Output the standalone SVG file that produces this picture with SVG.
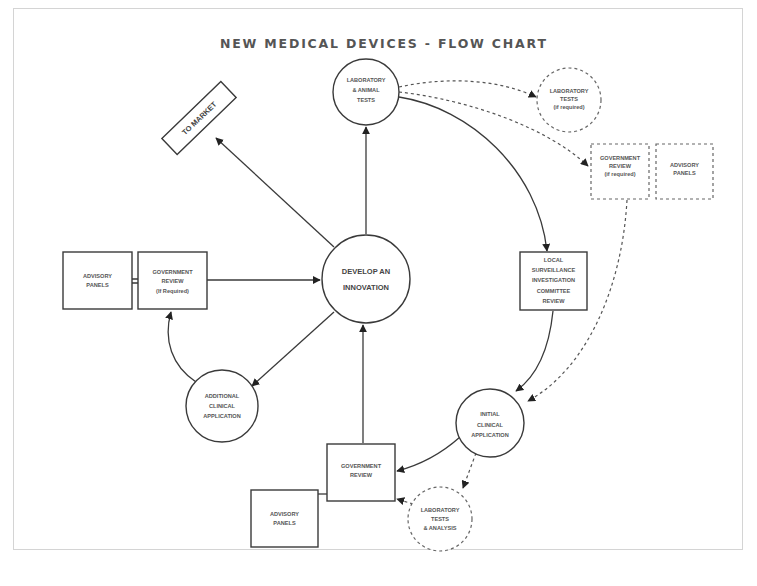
<svg xmlns="http://www.w3.org/2000/svg" width="757" height="586" viewBox="0 0 757 586">
<style>
.ln{fill:none;stroke:#3a3a3a;stroke-width:1.3}
.dl{fill:none;stroke:#555;stroke-width:1.2;stroke-dasharray:3 3}
.nd{fill:#fff;stroke:#3a3a3a;stroke-width:1.4}
.dn{fill:#fff;stroke:#666;stroke-width:1.2;stroke-dasharray:3 3}
.t{font-family:"Liberation Sans",Arial,sans-serif;font-size:5.6px;font-weight:bold;fill:#555;text-anchor:middle}
.tb{font-family:"Liberation Sans",Arial,sans-serif;font-size:7.5px;font-weight:bold;fill:#444;text-anchor:middle}
</style>
<defs>
<marker id="ah" viewBox="0 0 10 10" refX="9" refY="5" markerWidth="8" markerHeight="8" markerUnits="userSpaceOnUse" orient="auto">
<path d="M0,0 L10,5 L0,10 z" fill="#222"/>
</marker>
</defs>
<rect x="13.5" y="8.5" width="729" height="541" fill="#fff" stroke="#d4d4d4" stroke-width="1"/>
<text x="383" y="48" font-family="'DejaVu Sans',sans-serif" font-size="12.5" font-weight="bold" fill="#555" text-anchor="middle" textLength="326" lengthAdjust="spacing">NEW MEDICAL DEVICES - FLOW CHART</text>

<g id="connectors">
<path class="ln" d="M366,234 L366,127" marker-end="url(#ah)"/>
<path class="ln" d="M334,247 L216,138" marker-end="url(#ah)"/>
<path class="ln" d="M207,280 L320,280" marker-end="url(#ah)"/>
<path class="ln" d="M334,312 L252,386" marker-end="url(#ah)"/>
<path class="ln" d="M196,382 C172,366 163,340 171,312" marker-end="url(#ah)"/>
<path class="ln" d="M363,443 L363,325" marker-end="url(#ah)"/>
<path class="ln" d="M460,437 Q432,462 397,471" marker-end="url(#ah)"/>
<path class="dl" d="M413,504 L397,499" marker-end="url(#ah)"/>
<path class="dl" d="M476,453 L463,488" marker-end="url(#ah)"/>
<path class="ln" d="M399,97 C470,108 538,170 547,251" marker-end="url(#ah)"/>
<path class="ln" d="M553,311 C549,350 537,376 516,391" marker-end="url(#ah)"/>
<path class="dl" d="M399,87 C450,76 500,80 536,97" marker-end="url(#ah)"/>
<path class="dl" d="M399,92 C470,100 548,128 588,166" marker-end="url(#ah)"/>
<path class="dl" d="M627,200 C622,290 585,370 528,401" marker-end="url(#ah)"/>
<path class="ln" d="M132,279 L138,279 M132,283 L138,283"/>
<path class="ln" d="M318,494 L327,494"/>
</g>

<g id="lab-animal-tests">
<circle class="nd" cx="366" cy="92" r="33"/>
<text class="t" x="366" y="82">LABORATORY</text>
<text class="t" x="366" y="92">&amp; ANIMAL</text>
<text class="t" x="366" y="102">TESTS</text>
</g>

<g id="lab-tests-top">
<circle class="dn" cx="569" cy="100" r="32"/>
<text class="t" x="569" y="93">LABORATORY</text>
<text class="t" x="569" y="101">TESTS</text>
<text class="t" x="569" y="109" font-weight="normal">(if required)</text>
</g>

<g id="gov-review-top">
<rect class="dn" x="591" y="144" width="58" height="55"/>
<text class="t" x="620" y="160">GOVERNMENT</text>
<text class="t" x="620" y="168">REVIEW</text>
<text class="t" x="620" y="176" font-weight="normal">(if required)</text>
</g>

<g id="advisory-top">
<rect class="dn" x="656" y="144" width="57" height="55"/>
<text class="t" x="684.5" y="167">ADVISORY</text>
<text class="t" x="684.5" y="175">PANELS</text>
</g>

<g id="to-market">
<g transform="translate(199,118) rotate(-44)">
<rect class="nd" x="-41" y="-11" width="82" height="22"/>
<text class="tb" x="0" y="3" font-size="7">TO MARKET</text>
</g>
</g>

<g id="develop">
<circle class="nd" cx="366" cy="279" r="44"/>
<text class="tb" x="366" y="274">DEVELOP AN</text>
<text class="tb" x="366" y="290">INNOVATION</text>
</g>

<g id="advisory-left">
<rect class="nd" x="63" y="252" width="69" height="57"/>
<text class="t" x="97.5" y="278">ADVISORY</text>
<text class="t" x="97.5" y="287">PANELS</text>
</g>

<g id="gov-review-left">
<rect class="nd" x="138" y="252" width="69" height="57"/>
<text class="t" x="172.5" y="274">GOVERNMENT</text>
<text class="t" x="172.5" y="283">REVIEW</text>
<text class="t" x="172.5" y="293" font-weight="normal">(If Required)</text>
</g>

<g id="local-committee">
<rect class="nd" x="520" y="252" width="67" height="58"/>
<text class="t" x="553.5" y="262">LOCAL</text>
<text class="t" x="553.5" y="272">SURVEILLANCE</text>
<text class="t" x="553.5" y="282">INVESTIGATION</text>
<text class="t" x="553.5" y="293">COMMITTEE</text>
<text class="t" x="553.5" y="303">REVIEW</text>
</g>

<g id="additional-clinical">
<circle class="nd" cx="222" cy="406" r="36"/>
<text class="t" x="222" y="398">ADDITIONAL</text>
<text class="t" x="222" y="408">CLINICAL</text>
<text class="t" x="222" y="418">APPLICATION</text>
</g>

<g id="initial-clinical">
<circle class="nd" cx="490" cy="423" r="34"/>
<text class="t" x="490" y="416">INITIAL</text>
<text class="t" x="490" y="427">CLINICAL</text>
<text class="t" x="490" y="437">APPLICATION</text>
</g>

<g id="gov-review-bottom">
<rect class="nd" x="327" y="444" width="68" height="57"/>
<text class="t" x="361" y="468">GOVERNMENT</text>
<text class="t" x="361" y="477">REVIEW</text>
</g>

<g id="advisory-bottom">
<rect class="nd" x="251" y="490" width="67" height="57"/>
<text class="t" x="284.5" y="516">ADVISORY</text>
<text class="t" x="284.5" y="525">PANELS</text>
</g>

<g id="lab-tests-bottom">
<circle class="dn" cx="440" cy="519" r="32"/>
<text class="t" x="440" y="512">LABORATORY</text>
<text class="t" x="440" y="521">TESTS</text>
<text class="t" x="440" y="530">&amp; ANALYSIS</text>
</g>
</svg>
